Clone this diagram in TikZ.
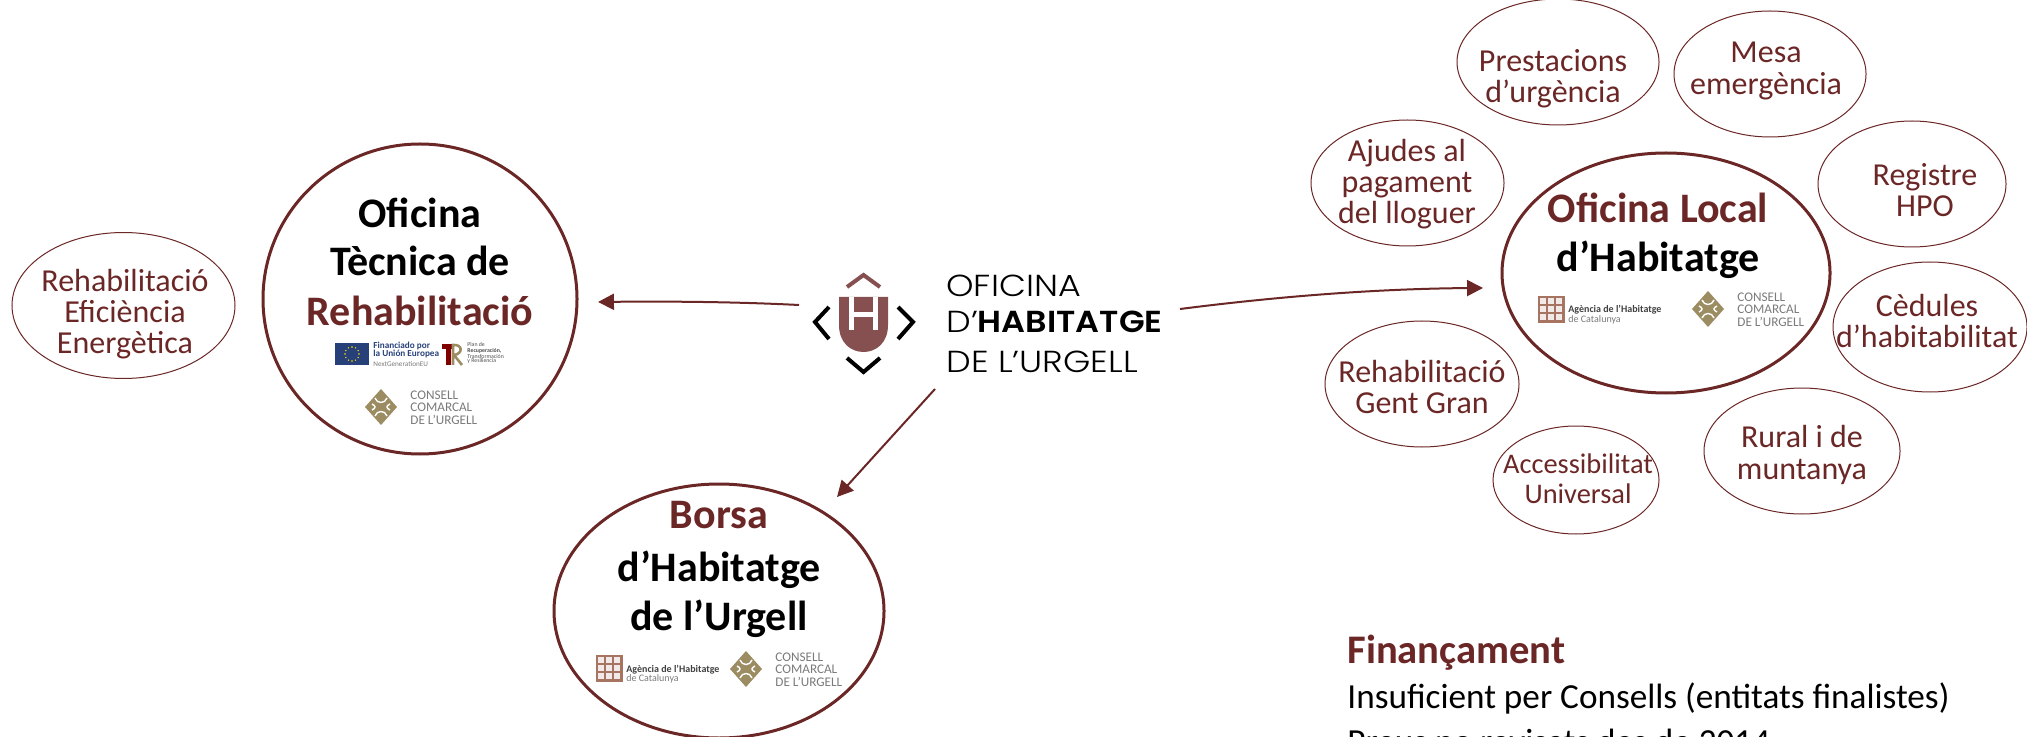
\documentclass[tikz,border=0pt]{standalone}
\usepackage{fontspec}
\setmainfont{Carlito}
\newfontfamily\logofont[FakeStretch=1.15]{Poppins Light}
\newfontfamily\logobold[FakeStretch=1.1]{Poppins SemiBold}
\usetikzlibrary{shapes.geometric,arrows.meta,bending}
\definecolor{maroon}{HTML}{6B2626}
\definecolor{shield}{HTML}{875050}
\definecolor{gold}{HTML}{9C8C62}
\definecolor{brick}{HTML}{A87462}
\definecolor{eublue}{HTML}{27407A}
\definecolor{logogrey}{HTML}{7A7A7A}
\tikzset{
  x=0.5pt,y=-0.5pt,
  bigell/.style 2 args={draw=maroon,line width=1.5pt,ellipse,inner sep=0pt,minimum width=#1*0.5pt,minimum height=#2*0.5pt},
  smallell/.style 2 args={draw=maroon,line width=0.5pt,ellipse,inner sep=0pt,minimum width=#1*0.5pt,minimum height=#2*0.5pt},
  smalltxt/.style={text=maroon,align=center,inner sep=0pt,font=\fontsize{16}{15.6}\selectfont},
  bigtxt/.style={anchor=base,inner sep=0pt,font=\fontsize{21}{25}\selectfont\bfseries},
  arrowline/.style={draw=maroon,line width=1pt,-{Triangle[length=8pt,width=8pt,bend]}},
  finhead/.style={anchor=base west,inner sep=0pt,text=maroon,font=\fontsize{20.3}{24}\selectfont\bfseries},
  finbody/.style={anchor=base west,inner sep=0pt,font=\fontsize{17.6}{22}\selectfont},
  logotxt/.style={anchor=base west,inner sep=0pt,text=black,font=\fontsize{15.2}{18}\logofont},
  tinygrey/.style={anchor=west,inner sep=0pt,text=logogrey,font=\fontsize{6.6}{7}\selectfont},
  tinyblack/.style={anchor=base west,inner sep=0pt,text=black!75,font=\fontsize{5}{6}\selectfont\bfseries},
  tinysub/.style={anchor=base west,inner sep=0pt,text=logogrey,font=\fontsize{5}{6}\selectfont},
  councillogo/.pic={
    \fill[gold] (-16,0) -- (0,-18) -- (16,0) -- (0,18) -- cycle;
    \draw[white,line width=0.7pt] (-6,-9) .. controls (-4,-3) and (4,-3) .. (6,-9);
    \draw[white,line width=0.7pt] (-6,9) .. controls (-4,3) and (4,3) .. (6,9);
    \draw[white,line width=0.7pt] (-9,-3) .. controls (-5,-1) and (-5,1) .. (-9,3);
    \draw[white,line width=0.7pt] (9,-3) .. controls (5,-1) and (5,1) .. (9,3);
    \node[tinygrey] (-l1) at (29,-12) {CONSELL};
    \node[tinygrey] (-l2) at (29,0) {COMARCAL};
    \node[tinygrey] (-l3) at (29,13) {DE L’URGELL};
  },
  agencylogo/.pic={
    \fill[brick] (0,0) rectangle (27,27);
    \foreach \i in {0,1,2}{\foreach \j in {0,1,2}{
      \fill[white!85!brick] (2+\i*8.2,2+\j*8.2) rectangle (8+\i*8.2,8+\j*8.2);
    }}
    \node[tinyblack] (-a1) at (30,17) {Agència de l’Habitatge};
    \node[tinysub] (-a2) at (30,26) {de Catalunya};
  }
}
\begin{document}
\begin{tikzpicture}
\useasboundingbox (0,0) rectangle (2027,737);

% big ellipses
\node[bigell={314}{310}] (otr) at (420,299) {};
\node[bigell={330}{254}] (bh) at (719,611) {};
\node[bigell={328}{240}] (ol) at (1666,273) {};

% small ellipses
\node[smallell={223}{146}] (e0) at (123.5,305.5) {};
\node[smallell={202}{126}] (e1) at (1558,62) {};
\node[smallell={192}{126}] (e2) at (1770,74) {};
\node[smallell={193}{126}] (e3) at (1407.5,183) {};
\node[smallell={188}{126}] (e4) at (1912,184) {};
\node[smallell={194}{130}] (e5) at (1930,327) {};
\node[smallell={196}{126}] (e6) at (1802,451) {};
\node[smallell={166}{108}] (e7) at (1576,480) {};
\node[smallell={194}{126}] (e8) at (1422,384) {};

% small ellipse texts
\node[smalltxt] (t0) at (125,314) {Rehabilitació\\Eficiència\\Energètica};
\node[smalltxt] (t1) at (1553,79) {Prestacions\\d’urgència};
\node[smalltxt] (t2) at (1766,71) {Mesa\\emergència};
\node[smalltxt] (t3) at (1407,184) {Ajudes al\\pagament\\del lloguer};
\node[smalltxt] (t4) at (1925,190) {Registre\\HPO};
\node[smalltxt] (t5) at (1927,321) {Cèdules\\d’habitabilitat};
\node[smalltxt] (t6) at (1802,455) {Rural i de\\muntanya};
\node[smalltxt,font=\fontsize{14.2}{15}\selectfont] (t7) at (1578,479) {Accessibilitat\\Universal};
\node[smalltxt] (t8) at (1422,387) {Rehabilitació\\Gent Gran};

% big ellipse texts
\node[bigtxt] (b1) at (420,228) {Oficina};
\node[bigtxt] (b2) at (420,276) {Tècnica de};
\node[bigtxt,text=maroon] (b3) at (420,326) {Rehabilitació};
\node[bigtxt,text=maroon] (b4) at (719,528) {Borsa};
\node[bigtxt] (b5) at (719,581) {d’Habitatge};
\node[bigtxt] (b6) at (719,630) {de l’Urgell};
\node[bigtxt,text=maroon] (b7) at (1658,223) {Oficina Local};
\node[bigtxt] (b8) at (1658,272) {d’Habitatge};

% funding logos, left ellipse
\fill[eublue] (335,343) rectangle (369,365);
\foreach \a in {0,30,...,330}{\fill[yellow!80!orange] ({352+7*cos(\a)},{354+7*sin(\a)}) circle (0.8);}
\node[anchor=base west,inner sep=0pt,text=eublue,font=\fontsize{4.6}{5}\selectfont\bfseries] (f1) at (373,349) {Financiado por};
\node[anchor=base west,inner sep=0pt,text=eublue,font=\fontsize{4.6}{5}\selectfont\bfseries] (f2) at (373,357) {la Unión Europea};
\node[anchor=base west,inner sep=0pt,text=logogrey,font=\fontsize{3.6}{4}\selectfont] (f3) at (373,366) {NextGenerationEU};
\fill[red!50!black] (442,344) rectangle (454,349);
\fill[red!50!black] (446,344) rectangle (451,365);
\draw[gold,line width=1.3pt] (453,365) -- (453,345) .. controls (463,344) and (463,354) .. (454,355) -- (462,365);
\node[anchor=base west,inner sep=0pt,text=black!70,font=\fontsize{2.9}{3}\selectfont] (r1) at (467,347) {Plan de};
\node[anchor=base west,inner sep=0pt,text=black!70,font=\fontsize{2.9}{3}\selectfont\bfseries] (r2) at (467,352) {Recuperación,};
\node[anchor=base west,inner sep=0pt,text=black!70,font=\fontsize{2.9}{3}\selectfont] (r3) at (467,358) {Transformación};
\node[anchor=base west,inner sep=0pt,text=black!70,font=\fontsize{2.9}{3}\selectfont] (r4) at (467,363) {y Resiliencia};

\pic (c1) at (381,407) {councillogo};
\pic (c2) at (746,669) {councillogo};
\pic (c3) at (1708,309) {councillogo};
\pic (a1) at (596,655) {agencylogo};
\pic (a2) at (1538,296) {agencylogo};

% central logo
\fill[shield] (839,297) -- (888,297) -- (888,325) .. controls (888,343) and (876,352) .. (863.5,352) .. controls (851,352) and (839,343) .. (839,325) -- cycle;
\fill[white] (849,297) rectangle (854,330);
\fill[white] (873,297) rectangle (878,330);
\fill[white] (854,312) rectangle (873,317);
\draw[shield,line width=2pt] (847,287) -- (863.5,275) -- (880,287);
\draw[black,line width=2pt] (829,307) -- (815,322) -- (829,339);
\draw[black,line width=2pt] (898,307) -- (913,322) -- (898,339);
\draw[black,line width=2pt] (847,358) -- (863.5,372) -- (880,358);
\node[logotxt] (l1) at (946,297) {OFICINA};
\node[logotxt] (l2) at (946,333) {D’{\logobold HABITATGE}};
\node[logotxt] (l3) at (946,372) {DE L’URGELL};

% connectors
\coordinate (s1) at (799,305);
\coordinate (s2) at (1180,309);
\coordinate (s3) at (935,389);
\coordinate (e1tip) at (598,302);
\coordinate (e2tip) at (1483,288);
\coordinate (e3tip) at (837,497);
\draw[arrowline] (s1) .. controls (740,302) and (670,301) .. (e1tip);
\draw[arrowline] (s2) .. controls (1290,295) and (1390,288) .. (e2tip);
\draw[arrowline] (s3) -- (e3tip);

% funding text
\node[finhead] (fh) at (1347,663) {Finançament};
\node[finbody] (fb1) at (1347,708) {Insuficient per Consells (entitats finalistes)};
\node[finbody] (fb2) at (1347,753) {Preus no revisats des de 2014};
\end{tikzpicture}
\end{document}
